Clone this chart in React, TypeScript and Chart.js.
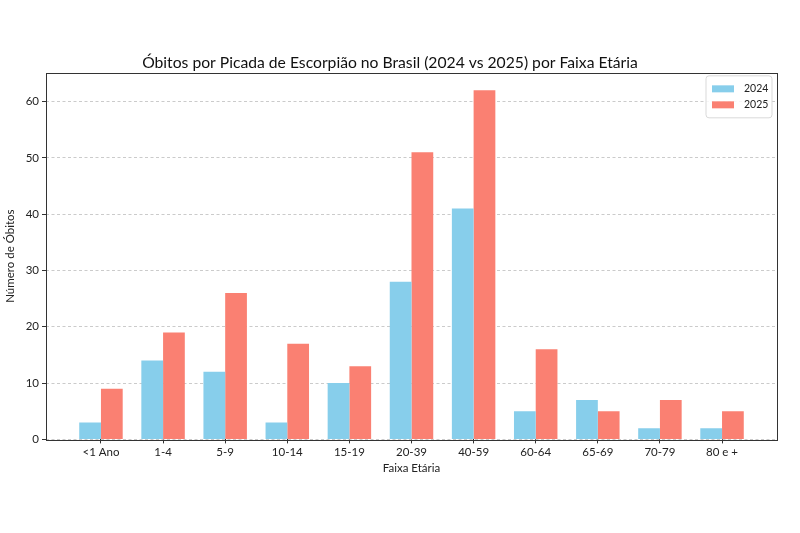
import React, { useEffect, useRef } from "react";
import { Chart, registerables } from "chart.js";

Chart.register(...registerables);

const categories = ["<1 Ano", "1-4", "5-9", "10-14", "15-19", "20-39", "40-59", "60-64", "65-69", "70-79", "80 e +"];
const values2024 = [3, 14, 12, 3, 10, 28, 41, 5, 7, 2, 2];
const values2025 = [9, 19, 26, 17, 13, 51, 62, 16, 5, 7, 5];
const yTicks = [0, 10, 20, 30, 40, 50, 60];

const FONT = "Lato, 'Noto Sans', sans-serif";

const frameAndLegend = {
  id: "frameAndLegend",
  afterDraw(chart: any) {
    const { ctx, chartArea } = chart;
    const { left, right, top, bottom } = chartArea;
    ctx.save();
    ctx.strokeStyle = "#333333";
    ctx.lineWidth = 1;
    ctx.strokeRect(Math.round(left) + 0.5, Math.round(top) + 0.5, Math.round(right - left), Math.round(bottom - top));
    const datasets = chart.data.datasets;
    const rowH = 16;
    const lw = 66;
    const lh = 10 + rowH * datasets.length;
    const lx = right - 5 - lw;
    const ly = top + 3;
    ctx.fillStyle = "rgba(255,255,255,0.85)";
    ctx.strokeStyle = "#d9d9d9";
    ctx.beginPath();
    const r = 3;
    ctx.moveTo(lx + r, ly);
    ctx.arcTo(lx + lw, ly, lx + lw, ly + lh, r);
    ctx.arcTo(lx + lw, ly + lh, lx, ly + lh, r);
    ctx.arcTo(lx, ly + lh, lx, ly, r);
    ctx.arcTo(lx, ly, lx + lw, ly, r);
    ctx.closePath();
    ctx.fill();
    ctx.stroke();
    ctx.font = "10.5px " + FONT;
    ctx.textBaseline = "middle";
    ctx.textAlign = "left";
    datasets.forEach((ds: any, i: number) => {
      const cy = ly + 5 + rowH * i + rowH / 2;
      ctx.fillStyle = ds.backgroundColor;
      ctx.fillRect(lx + 6, cy - 3.5, 22, 7);
      ctx.fillStyle = "#222222";
      ctx.fillText(ds.label, lx + 38, cy);
    });
    ctx.restore();
  },
};

export default function App() {
  const ref = useRef<HTMLCanvasElement | null>(null);
  useEffect(() => {
    document.body.style.margin = "0";
    const canvas = ref.current!;
    const chart = new Chart(canvas, {
      type: "bar",
      data: {
        datasets: [
          {
            label: "2024",
            data: values2024.map((v, i) => ({ x: i, y: v })),
            backgroundColor: "#87CEEB",
            borderWidth: 0,
            categoryPercentage: 0.7,
            barPercentage: 1.0,
          },
          {
            label: "2025",
            data: values2025.map((v, i) => ({ x: i, y: v })),
            backgroundColor: "#FA8072",
            borderWidth: 0,
            categoryPercentage: 0.7,
            barPercentage: 1.0,
          },
        ],
      },
      options: {
        animation: false,
        responsive: false,
        devicePixelRatio: 1,
        layout: { padding: { left: 3, right: 23, top: 6, bottom: 58 } },
        plugins: {
          legend: { display: false },
          tooltip: { enabled: false },
          title: {
            display: true,
            text: "Óbitos por Picada de Escorpião no Brasil (2024 vs 2025) por Faixa Etária",
            color: "#111111",
            font: { family: FONT, size: 15.7, weight: "normal" },
            padding: { top: 48, bottom: 0 },
          },
        },
        scales: {
          x: {
            type: "linear",
            min: -0.885,
            max: 10.885,
            offset: false,
            afterBuildTicks: (scale: any) => {
              scale.ticks = categories.map((_, i) => ({ value: i }));
            },
            ticks: {
              autoSkip: false,
              maxRotation: 0,
              color: "#222222",
              font: { family: FONT, size: 11.5 },
              padding: 2,
              callback: (v: any) => categories[v as number] ?? "",
            },
            grid: { display: true, offset: false, drawOnChartArea: false, drawTicks: true, tickLength: 4, color: "#333333" },
            border: { display: false },
            title: {
              display: true,
              text: "Faixa Etária",
              color: "#222222",
              font: { family: FONT, size: 11.5 },
              padding: { top: 0, bottom: 0 },
            },
          },
          y: {
            type: "linear",
            min: 0,
            max: 65.1,
            afterBuildTicks: (scale: any) => {
              scale.ticks = yTicks.map((v) => ({ value: v }));
            },
            afterFit: (scale: any) => {
              scale.width = 43;
            },
            ticks: {
              color: "#222222",
              font: { family: FONT, size: 11.5 },
              padding: 3,
            },
            grid: {
              color: "rgba(190,190,190,0.8)",
              tickColor: "#333333",
              tickLength: 4,
              drawTicks: true,
            } as any,
            border: { display: false, dash: [3, 2.5] } as any,
            title: {
              display: true,
              text: "Número de Óbitos",
              color: "#222222",
              font: { family: FONT, size: 11.5 },
              padding: { top: 0, bottom: 2 },
            },
          },
        },
      } as any,
      plugins: [frameAndLegend],
    });
    return () => chart.destroy();
  }, []);
  return (
    <div style={{ width: 800, height: 533, background: "#ffffff" }}>
      <canvas ref={ref} width={800} height={533} style={{ display: "block" }} />
    </div>
  );
}
